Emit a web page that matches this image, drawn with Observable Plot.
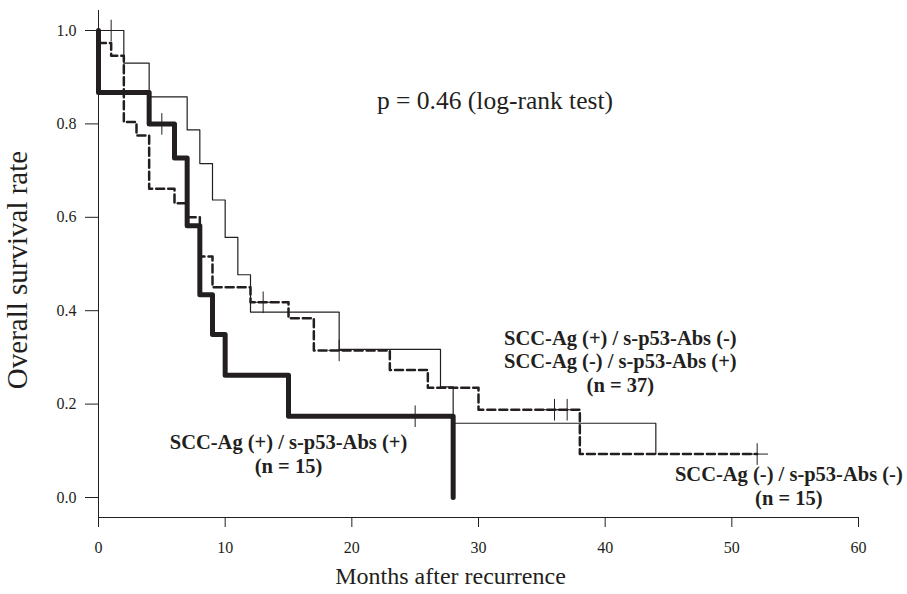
<!DOCTYPE html>
<html>
<head>
<meta charset="utf-8">
<script src="https://cdn.jsdelivr.net/npm/d3@7"></script>
<script src="https://cdn.jsdelivr.net/npm/@observablehq/plot@0.6"></script>
<style>
  html, body { margin: 0; padding: 0; background: #fff; }
  #chart { width: 907px; height: 594px; }
</style>
</head>
<body>
<div id="chart"></div>
<script>
// ---- Data ----
const xTicks = [0, 10, 20, 30, 40, 50, 60];
const yTicks = [0, 0.2, 0.4, 0.6, 0.8, 1.0];

// SCC-Ag (+) / s-p53-Abs (+)  (n = 15)  — thick line
const bothPosTimes = [0, 0, 4, 6, 7, 8, 9, 10, 15, 28];
const bothPosSurv  = [1, 0.867, 0.800, 0.727, 0.582, 0.434, 0.349, 0.262, 0.174, 0];
const bothPosCensorTimes = [5, 25];
const bothPosCensorSurv  = [0.800, 0.174];

// SCC-Ag (-) / s-p53-Abs (-)  (n = 15)  — thin line
const bothNegTimes = [0, 2, 4, 7, 8, 9, 10, 11, 12, 19, 27, 28, 44];
const bothNegSurv  = [1, 0.930, 0.858, 0.787, 0.715, 0.637, 0.557, 0.477, 0.397, 0.317, 0.237, 0.159, 0.093];
const bothNegCensorTimes = [1];
const bothNegCensorSurv  = [1.0];

// SCC-Ag (+)/s-p53-Abs (-) or SCC-Ag (-)/s-p53-Abs (+)  (n = 37) — dashed line
const mixedTimes = [0, 0, 1, 2, 3, 4, 6, 7, 8, 9, 12, 15, 17, 23, 26, 30, 38, 52];
const mixedSurv  = [1, 0.973, 0.946, 0.804, 0.775, 0.661, 0.630, 0.600, 0.516, 0.450, 0.418, 0.384, 0.315, 0.273, 0.235, 0.188, 0.093, 0.093];
const mixedCensorTimes = [13, 19, 36, 37, 52];
const mixedCensorSurv  = [0.418, 0.315, 0.188, 0.188, 0.093];

const annotationTexts = ["p = 0.46 (log-rank test)"];
const groupLabels = [
  "SCC-Ag (+) / s-p53-Abs (-)\nSCC-Ag (-) / s-p53-Abs (+)\n(n = 37)",
  "SCC-Ag (+) / s-p53-Abs (+)\n(n = 15)",
  "SCC-Ag (-) / s-p53-Abs (-)\n(n = 15)"
];
const groupLabelX = [41.2, 15.0, 54.5];
const groupLabelY = [0.293, 0.094, 0.026];

// ---- Build tables ----
const toPts = (ts, ss) => ts.map((t, i) => ({t, s: ss[i]}));
const bothPos = toPts(bothPosTimes, bothPosSurv);
const bothNeg = toPts(bothNegTimes, bothNegSurv);
const mixed = toPts(mixedTimes, mixedSurv);
const censors = [
  ...toPts(bothPosCensorTimes, bothPosCensorSurv),
  ...toPts(bothNegCensorTimes, bothNegCensorSurv),
  ...toPts(mixedCensorTimes, mixedCensorSurv)
];
const labels = groupLabels.map((text, i) => ({text, x: groupLabelX[i], y: groupLabelY[i]}));

const ink = "#231f20";
const yPad = 20 / 467;

const chart = Plot.plot({
  width: 907,
  height: 594,
  marginLeft: 98,
  marginRight: 49,
  marginTop: 10,
  marginBottom: 77,
  style: {fontFamily: "'Liberation Serif', 'Times New Roman', serif", fontSize: "16px", background: "#fff", color: ink},
  x: {domain: [0, 60]},
  y: {domain: [-yPad, 1 + yPad]},
  marks: [
    Plot.ruleX([0], {stroke: ink, strokeWidth: 1}),
    Plot.ruleY([-yPad], {stroke: ink, strokeWidth: 1}),
    Plot.axisY({ticks: yTicks, tickFormat: d => d.toFixed(1), tickSize: 13, tickPadding: 9, label: null, stroke: ink, fill: ink}),
    Plot.axisX({ticks: xTicks, tickSize: 10, tickPadding: 14, label: null, stroke: ink, fill: ink}),
    Plot.text(["Overall survival rate"], {frameAnchor: "left", textAnchor: "middle", dx: -81, dy: 6, rotate: -90, fontSize: 29, fill: ink}),
    Plot.text(["Months after recurrence"], {frameAnchor: "bottom", textAnchor: "middle", dx: -28, dy: 66, fontSize: 24, fill: ink}),
    Plot.line(bothNeg, {x: "t", y: "s", curve: "step-after", stroke: ink, strokeWidth: 1.2}),
    Plot.line(mixed, {x: "t", y: "s", curve: "step-after", stroke: ink, strokeWidth: 2.5, strokeDasharray: "8,4"}),
    Plot.line(bothPos, {x: "t", y: "s", curve: "step-after", stroke: ink, strokeWidth: 5, strokeLinecap: "round"}),
    Plot.dot(censors, {x: "t", y: "s", symbol: "plus", r: 7, stroke: ink, strokeWidth: 1}),
    Plot.text(annotationTexts, {x: 31.3, y: 0.85, fontSize: 25.5, fill: ink}),
    Plot.text(labels, {x: "x", y: "y", text: "text", fontSize: 20.5, fontWeight: "bold", lineHeight: 1.15, fill: ink})
  ]
});
document.getElementById("chart").appendChild(chart);
</script>
</body>
</html>
